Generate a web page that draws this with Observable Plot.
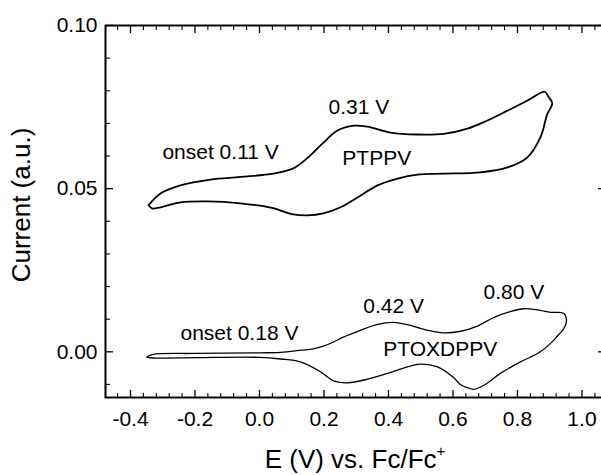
<!DOCTYPE html>
<html>
<head>
<meta charset="utf-8">
<script src="https://cdn.jsdelivr.net/npm/d3@7"></script>
<script src="https://cdn.jsdelivr.net/npm/@observablehq/plot@0.6"></script>
<style>
  html, body { margin: 0; padding: 0; background: #fff; overflow: hidden; }
  #chart { width: 601px; height: 475px; overflow: hidden; }
  #chart svg { max-width: none !important; }
</style>
</head>
<body>
<div id="chart"></div>
<script>
// ---- Data ----
// PTPPV loop: left vertex -> anodic (upper) branch -> right vertex -> cathodic (lower) branch back
const ptppvE = [-0.344, -0.307, -0.245, -0.152, -0.059, 0.043, 0.105, 0.150, 0.195, 0.242, 0.292, 0.335, 0.406, 0.490, 0.571, 0.645, 0.707, 0.769, 0.831, 0.871, 0.885, 0.896, 0.908, 0.893, 0.871, 0.831, 0.769, 0.685, 0.571, 0.490, 0.428, 0.366, 0.304, 0.251, 0.198, 0.149, 0.100, 0.043, -0.059, -0.161, -0.245, -0.307, -0.332, -0.344];
const ptppvI = [0.0449, 0.0485, 0.0510, 0.0528, 0.0536, 0.0546, 0.0562, 0.0595, 0.0638, 0.0678, 0.0693, 0.0690, 0.0672, 0.0666, 0.0668, 0.0684, 0.0709, 0.0739, 0.0770, 0.0793, 0.0797, 0.0782, 0.0761, 0.0730, 0.0657, 0.0596, 0.0565, 0.0550, 0.0546, 0.0543, 0.0531, 0.0510, 0.0473, 0.0443, 0.0424, 0.0418, 0.0422, 0.0440, 0.0455, 0.0461, 0.0458, 0.0443, 0.0439, 0.0449];

// PTOXDPPV loop
const ptoxE = [-0.350, -0.330, -0.200, 0.000, 0.065, 0.130, 0.167, 0.200, 0.230, 0.260, 0.313, 0.366, 0.416, 0.468, 0.521, 0.571, 0.624, 0.676, 0.726, 0.780, 0.820, 0.870, 0.902, 0.943, 0.952, 0.943, 0.925, 0.912, 0.871, 0.809, 0.747, 0.700, 0.664, 0.645, 0.623, 0.600, 0.552, 0.499, 0.459, 0.397, 0.335, 0.273, 0.230, 0.189, 0.127, 0.065, 0.000, -0.200, -0.330, -0.350];
const ptoxI = [-0.0016, -0.0008, -0.0005, -0.0003, -0.0002, 0.0005, 0.0009, 0.0018, 0.0030, 0.0045, 0.0066, 0.0084, 0.0090, 0.0081, 0.0066, 0.0058, 0.0063, 0.0079, 0.0105, 0.0124, 0.0132, 0.0127, 0.0121, 0.0118, 0.0095, 0.0070, 0.0050, 0.0035, 0.0000, -0.0031, -0.0066, -0.0100, -0.0115, -0.0110, -0.0100, -0.0077, -0.0046, -0.0038, -0.0046, -0.0066, -0.0084, -0.0095, -0.0089, -0.0061, -0.0031, -0.0022, -0.0017, -0.0018, -0.0019, -0.0016];

// Annotations (data coordinates, text baseline)
const labelText = ["onset 0.11 V", "0.31 V", "PTPPV", "onset 0.18 V", "0.42 V", "0.80 V", "PTOXDPPV"];
const labelE    = [-0.301, 0.214, 0.257, -0.245, 0.322, 0.695, 0.384];
const labelI    = [0.0592, 0.0730, 0.0571, 0.0036, 0.0118, 0.0161, -0.0013];

// Axes
const xMajor = [-0.4, -0.2, 0.0, 0.2, 0.4, 0.6, 0.8, 1.0];
const xTickLabels = ["-0.4", "-0.2", "0.0", "0.2", "0.4", "0.6", "0.8", "1.0"];
const yMajor = [0.00, 0.05, 0.10];
const yTickLabels = ["0.00", "0.05", "0.10"];
const xMinor = d3.range(-11, 27).map(i => +(i * 0.04).toFixed(2)).filter(v => !xMajor.some(m => Math.abs(m - v) < 1e-6));
const yMinor = d3.range(-1, 10).map(i => +(i * 0.01).toFixed(2)).filter(v => !yMajor.some(m => Math.abs(m - v) < 1e-6));
const xDomain = [-0.4775, 1.073];
const yDomain = [-0.014, 0.10];

// ---- Tables ----
const ptppv = ptppvE.map((e, i) => ({E: e, I: ptppvI[i]}));
const ptox = ptoxE.map((e, i) => ({E: e, I: ptoxI[i]}));
const labels = labelText.map((t, i) => ({text: t, E: labelE[i], I: labelI[i]}));
const frameBox = [
  {E: xDomain[0], I: yDomain[0]}, {E: xDomain[0], I: yDomain[1]},
  {E: xDomain[1], I: yDomain[1]}, {E: xDomain[1], I: yDomain[0]},
  {E: xDomain[0], I: yDomain[0]}
];

const chart = Plot.plot({
  width: 605, height: 475,
  marginLeft: 105, marginRight: 0, marginTop: 25, marginBottom: 78,
  style: {fontFamily: '"Liberation Sans", Arial, sans-serif', color: "#000"},
  x: {domain: xDomain},
  y: {domain: yDomain},
  marks: [
    Plot.axisX(xMajor, {anchor: "bottom", tickSize: 0, tickPadding: 14, fontSize: 21, tickFormat: (d, i) => xTickLabels[i], label: null}),
    Plot.axisY(yMajor, {anchor: "left", tickSize: 0, tickPadding: 8, fontSize: 21, tickFormat: (d, i) => yTickLabels[i], label: null}),
    Plot.axisX(xMajor, {anchor: "bottom", tickSize: -7, fill: "none", stroke: "#000", strokeWidth: 1.3, label: null}),
    Plot.axisX(xMinor, {anchor: "bottom", tickSize: -4, fill: "none", stroke: "#000", strokeWidth: 1.1, label: null}),
    Plot.axisX(xMajor, {anchor: "top", tickSize: -7, fill: "none", stroke: "#000", strokeWidth: 1.3, label: null}),
    Plot.axisX(xMinor, {anchor: "top", tickSize: -4, fill: "none", stroke: "#000", strokeWidth: 1.1, label: null}),
    Plot.axisY(yMajor, {anchor: "left", tickSize: -8, fill: "none", stroke: "#000", strokeWidth: 1.3, label: null}),
    Plot.axisY(yMinor, {anchor: "left", tickSize: -5, fill: "none", stroke: "#000", strokeWidth: 1.1, label: null}),
    Plot.axisY(yMajor, {anchor: "right", tickSize: -8, fill: "none", stroke: "#000", strokeWidth: 1.3, label: null}),
    Plot.axisY(yMinor, {anchor: "right", tickSize: -5, fill: "none", stroke: "#000", strokeWidth: 1.1, label: null}),
    Plot.frame({stroke: "#000", strokeWidth: 1.6}),
    Plot.line(frameBox, {x: "E", y: "I", stroke: "#000", strokeWidth: 1.6, strokeLinejoin: "miter", strokeLinecap: "square"}),
    Plot.line(ptppv, {x: "E", y: "I", curve: "catmull-rom", stroke: "#000", strokeWidth: 1.8}),
    Plot.line(ptox, {x: "E", y: "I", curve: "catmull-rom", stroke: "#000", strokeWidth: 1.3}),
    Plot.text(labels, {x: "E", y: "I", text: "text", textAnchor: "start", lineAnchor: "bottom", fontSize: 21, fill: "#000"})
  ]
});

// Axis titles
const svg = d3.select(chart);
svg.append("text")
  .attr("transform", "translate(30,205) rotate(-90)")
  .attr("text-anchor", "middle")
  .attr("font-size", 26)
  .attr("fill", "#000")
  .text("Current (a.u.)");
const xt = svg.append("text")
  .attr("x", 355)
  .attr("y", 468)
  .attr("text-anchor", "middle")
  .attr("font-size", 26)
  .attr("fill", "#000");
xt.append("tspan").text("E (V) vs. Fc/Fc");
xt.append("tspan").attr("font-size", 15).attr("dy", -12).text("+");

document.getElementById("chart").appendChild(chart);
</script>
</body>
</html>
